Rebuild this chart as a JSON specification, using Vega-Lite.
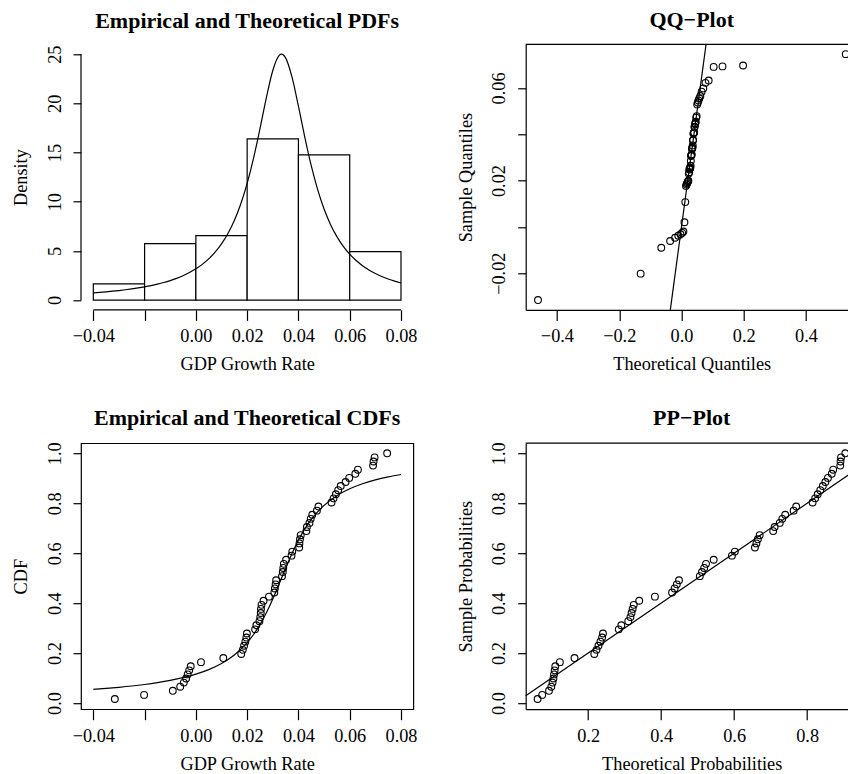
{
  "$schema": "https://vega.github.io/schema/vega-lite/v6.json",
  "background": "white",
  "padding": {"left": 10, "top": 9.3, "right": 0, "bottom": 0},
  "bounds": "flush",
  "spacing": 398.9,
  "datasets": {
    "hist": [
      {"x0": -0.04, "x1": -0.02, "density": 1.639},
      {"x0": -0.02, "x1": 0.0, "density": 5.738},
      {"x0": 0.0, "x1": 0.02, "density": 6.557},
      {"x0": 0.02, "x1": 0.04, "density": 16.393},
      {"x0": 0.04, "x1": 0.06, "density": 14.754},
      {"x0": 0.06, "x1": 0.08, "density": 4.918}
    ],
    "pdf": [
      {"x": -0.04, "d": 0.730}, {"x": -0.0375, "d": 0.781}, {"x": -0.035, "d": 0.837}, {"x": -0.0325, "d": 0.900},
      {"x": -0.03, "d": 0.969}, {"x": -0.0275, "d": 1.047}, {"x": -0.025, "d": 1.134}, {"x": -0.0225, "d": 1.233},
      {"x": -0.02, "d": 1.345}, {"x": -0.0175, "d": 1.472}, {"x": -0.015, "d": 1.618}, {"x": -0.0125, "d": 1.786},
      {"x": -0.01, "d": 1.981}, {"x": -0.0075, "d": 2.208}, {"x": -0.005, "d": 2.476}, {"x": -0.0025, "d": 2.793},
      {"x": 0.0, "d": 3.172}, {"x": 0.0025, "d": 3.628}, {"x": 0.005, "d": 4.183}, {"x": 0.0075, "d": 4.865},
      {"x": 0.01, "d": 5.710}, {"x": 0.0125, "d": 6.766}, {"x": 0.015, "d": 8.094}, {"x": 0.0175, "d": 9.768},
      {"x": 0.02, "d": 11.862}, {"x": 0.0225, "d": 14.428}, {"x": 0.025, "d": 17.420}, {"x": 0.0275, "d": 20.584},
      {"x": 0.03, "d": 23.341}, {"x": 0.0325, "d": 24.880}, {"x": 0.0334, "d": 25.005}, {"x": 0.035, "d": 24.616},
      {"x": 0.0375, "d": 22.655}, {"x": 0.04, "d": 19.708}, {"x": 0.0425, "d": 16.549}, {"x": 0.045, "d": 13.661},
      {"x": 0.0475, "d": 11.229}, {"x": 0.05, "d": 9.259}, {"x": 0.0525, "d": 7.691}, {"x": 0.055, "d": 6.446},
      {"x": 0.0575, "d": 5.455}, {"x": 0.06, "d": 4.660}, {"x": 0.0625, "d": 4.016}, {"x": 0.065, "d": 3.491},
      {"x": 0.0675, "d": 3.059}, {"x": 0.07, "d": 2.699}, {"x": 0.0725, "d": 2.397}, {"x": 0.075, "d": 2.141},
      {"x": 0.0775, "d": 1.923}, {"x": 0.08, "d": 1.736}
    ],
    "cdf": [
      {"x": -0.04, "F": 0.0547}, {"x": -0.035, "F": 0.0586}, {"x": -0.03, "F": 0.0631}, {"x": -0.025, "F": 0.0683},
      {"x": -0.02, "F": 0.0745}, {"x": -0.015, "F": 0.0819}, {"x": -0.01, "F": 0.0908}, {"x": -0.005, "F": 0.1019},
      {"x": 0.0, "F": 0.1159}, {"x": 0.005, "F": 0.1341}, {"x": 0.01, "F": 0.1586}, {"x": 0.015, "F": 0.1927},
      {"x": 0.02, "F": 0.2418}, {"x": 0.0225, "F": 0.2746}, {"x": 0.025, "F": 0.3143}, {"x": 0.0275, "F": 0.3618},
      {"x": 0.03, "F": 0.4169}, {"x": 0.0325, "F": 0.4775}, {"x": 0.035, "F": 0.5398}, {"x": 0.0375, "F": 0.5992},
      {"x": 0.04, "F": 0.6523}, {"x": 0.0425, "F": 0.6976}, {"x": 0.045, "F": 0.7352}, {"x": 0.05, "F": 0.7918},
      {"x": 0.055, "F": 0.8305}, {"x": 0.06, "F": 0.8579}, {"x": 0.065, "F": 0.8781}, {"x": 0.07, "F": 0.8935},
      {"x": 0.075, "F": 0.9055}, {"x": 0.08, "F": 0.9151}
    ],
    "obs": [
      {"v": -0.0316, "p": 0.0164, "F": 0.0616, "q": -0.4608},
      {"v": -0.0202, "p": 0.0328, "F": 0.0742, "q": -0.1311},
      {"v": -0.0090, "p": 0.0492, "F": 0.0928, "q": -0.0649},
      {"v": -0.0061, "p": 0.0656, "F": 0.0992, "q": -0.0365},
      {"v": -0.0047, "p": 0.0820, "F": 0.1026, "q": -0.0205},
      {"v": -0.0038, "p": 0.0984, "F": 0.1050, "q": -0.0103},
      {"v": -0.0032, "p": 0.1148, "F": 0.1066, "q": -0.0032},
      {"v": -0.0026, "p": 0.1311, "F": 0.1083, "q": 0.0021},
      {"v": -0.0020, "p": 0.1475, "F": 0.1101, "q": 0.0062},
      {"v": 0.0020, "p": 0.1639, "F": 0.1226, "q": 0.0095},
      {"v": 0.0107, "p": 0.1803, "F": 0.1627, "q": 0.0122},
      {"v": 0.0177, "p": 0.1967, "F": 0.2169, "q": 0.0145},
      {"v": 0.0183, "p": 0.2131, "F": 0.2230, "q": 0.0164},
      {"v": 0.0188, "p": 0.2295, "F": 0.2283, "q": 0.0181},
      {"v": 0.0193, "p": 0.2459, "F": 0.2338, "q": 0.0197},
      {"v": 0.0197, "p": 0.2623, "F": 0.2383, "q": 0.0210},
      {"v": 0.0199, "p": 0.2787, "F": 0.2407, "q": 0.0222},
      {"v": 0.0231, "p": 0.2951, "F": 0.284, "q": 0.0233},
      {"v": 0.0236, "p": 0.3115, "F": 0.291, "q": 0.0244},
      {"v": 0.0248, "p": 0.3279, "F": 0.310, "q": 0.0253},
      {"v": 0.0251, "p": 0.3443, "F": 0.316, "q": 0.0262},
      {"v": 0.0253, "p": 0.3607, "F": 0.319, "q": 0.0270},
      {"v": 0.0254, "p": 0.3770, "F": 0.322, "q": 0.0278},
      {"v": 0.0256, "p": 0.3934, "F": 0.325, "q": 0.0286},
      {"v": 0.0264, "p": 0.4098, "F": 0.340, "q": 0.0293},
      {"v": 0.0285, "p": 0.4262, "F": 0.383, "q": 0.0300},
      {"v": 0.0306, "p": 0.4426, "F": 0.430, "q": 0.0307},
      {"v": 0.0308, "p": 0.4590, "F": 0.437, "q": 0.0314},
      {"v": 0.0311, "p": 0.4754, "F": 0.443, "q": 0.0321},
      {"v": 0.0313, "p": 0.4918, "F": 0.449, "q": 0.0327},
      {"v": 0.0336, "p": 0.5082, "F": 0.506, "q": 0.0334},
      {"v": 0.0339, "p": 0.5246, "F": 0.512, "q": 0.0341},
      {"v": 0.0341, "p": 0.5410, "F": 0.518, "q": 0.0347},
      {"v": 0.0343, "p": 0.5574, "F": 0.523, "q": 0.0354},
      {"v": 0.0352, "p": 0.5738, "F": 0.544, "q": 0.0361},
      {"v": 0.0373, "p": 0.5902, "F": 0.594, "q": 0.0368},
      {"v": 0.0376, "p": 0.6066, "F": 0.602, "q": 0.0375},
      {"v": 0.0403, "p": 0.6230, "F": 0.657, "q": 0.0382},
      {"v": 0.0404, "p": 0.6393, "F": 0.661, "q": 0.0390},
      {"v": 0.0406, "p": 0.6557, "F": 0.665, "q": 0.0398},
      {"v": 0.0409, "p": 0.6721, "F": 0.670, "q": 0.0406},
      {"v": 0.0431, "p": 0.6885, "F": 0.707, "q": 0.0415},
      {"v": 0.0433, "p": 0.7049, "F": 0.711, "q": 0.0424},
      {"v": 0.0443, "p": 0.7213, "F": 0.725, "q": 0.0435},
      {"v": 0.0448, "p": 0.7377, "F": 0.732, "q": 0.0446},
      {"v": 0.0454, "p": 0.7541, "F": 0.740, "q": 0.0458},
      {"v": 0.0472, "p": 0.7705, "F": 0.763, "q": 0.0472},
      {"v": 0.0478, "p": 0.7869, "F": 0.770, "q": 0.0487},
      {"v": 0.0529, "p": 0.8033, "F": 0.815, "q": 0.0504},
      {"v": 0.0537, "p": 0.8197, "F": 0.822, "q": 0.0523},
      {"v": 0.0546, "p": 0.8361, "F": 0.829, "q": 0.0546},
      {"v": 0.0555, "p": 0.8525, "F": 0.836, "q": 0.0573},
      {"v": 0.0565, "p": 0.8689, "F": 0.843, "q": 0.0606},
      {"v": 0.0584, "p": 0.8852, "F": 0.850, "q": 0.0647},
      {"v": 0.0598, "p": 0.9016, "F": 0.857, "q": 0.0700},
      {"v": 0.0622, "p": 0.9180, "F": 0.8675, "q": 0.0771},
      {"v": 0.0632, "p": 0.9344, "F": 0.8715, "q": 0.0873},
      {"v": 0.0691, "p": 0.9508, "F": 0.8908, "q": 0.1033},
      {"v": 0.0693, "p": 0.9672, "F": 0.8915, "q": 0.1317},
      {"v": 0.0697, "p": 0.9836, "F": 0.8929, "q": 0.1978},
      {"v": 0.0746, "p": 1.0, "F": 0.9046, "q": 0.5276}
    ]
  },
  "config": {
    "font": "Liberation Serif",
    "view": {"stroke": null},
    "axis": {
      "labelFont": "Liberation Serif", "titleFont": "Liberation Serif",
      "labelFontSize": 18.3, "titleFontSize": 18.3, "titleFontWeight": "normal",
      "labelColor": "black", "titleColor": "black", "tickColor": "black", "domainColor": "black",
      "grid": false, "tickWidth": 1.2, "domainWidth": 1.2, "labelFlush": false, "labelOverlap": false
    },
    "axisX": {"tickSize": 10.5, "labelPadding": 21.5, "labelBaseline": "alphabetic", "titleBaseline": "alphabetic", "titleAlign": "center"},
    "axisY": {"tickSize": 8, "labelPadding": 13, "labelAngle": 270, "labelAlign": "center", "labelBaseline": "alphabetic", "titleAngle": 270, "titleBaseline": "alphabetic", "titleAlign": "center"},
    "title": {"font": "Liberation Serif", "fontSize": 22, "fontWeight": "bold", "color": "black", "anchor": "middle", "frame": "group", "baseline": "alphabetic", "offset": 11.4}
  },
  "vconcat": [
    {
      "hconcat": [
        {
          "width": 332.3, "height": 265.6,
          "title": {"text": "Empirical and Theoretical PDFs"},
          "layer": [
            {
              "data": {"name": "hist"},
              "mark": {"type": "rect", "fill": "white", "stroke": "black", "strokeWidth": 1.2},
              "encoding": {
                "x": {"field": "x0", "type": "quantitative", "title": "GDP Growth Rate",
                  "scale": {"domain": [-0.0448, 0.0848], "nice": false, "zero": false},
                  "axis": {"domain": false, "values": [-0.04, -0.02, 0, 0.02, 0.04, 0.06, 0.08], "labelExpr": "abs(datum.value + 0.02) < 1e-9 ? '' : format(datum.value, '.2f')", "titleX": 166.15, "titleY": 60}},
                "x2": {"field": "x1"},
                "y": {"field": "density", "type": "quantitative", "title": "Density",
                  "scale": {"domain": [-1, 26], "nice": false, "zero": false},
                  "axis": {"domain": false, "values": [0, 5, 10, 15, 20, 25], "format": "d", "titleX": -54.5, "titleY": 132.8}},
                "y2": {"datum": 0}
              }
            },
            {
              "data": {"name": "pdf"},
              "mark": {"type": "line", "color": "black", "strokeWidth": 1.2, "interpolate": "monotone"},
              "encoding": {
                "x": {"field": "x", "type": "quantitative", "title": "GDP Growth Rate", "scale": {"domain": [-0.0448, 0.0848], "nice": false, "zero": false}},
                "y": {"field": "d", "type": "quantitative", "title": "Density", "scale": {"domain": [-1, 26], "nice": false, "zero": false}}
              }
            },
            {
              "data": {"values": [{}]},
              "mark": {"type": "rule", "color": "black", "strokeWidth": 1.2},
              "encoding": {
                "x": {"datum": -0.04, "type": "quantitative", "title": "GDP Growth Rate"},
                "x2": {"datum": 0.08},
                "y": {"datum": -1, "type": "quantitative", "title": "Density"}
              }
            },
            {
              "data": {"values": [{}]},
              "mark": {"type": "rule", "color": "black", "strokeWidth": 1.2},
              "encoding": {
                "x": {"datum": -0.0448, "type": "quantitative", "title": "GDP Growth Rate"},
                "y": {"datum": 0, "type": "quantitative", "title": "Density"},
                "y2": {"datum": 25}
              }
            }
          ]
        },
        {
          "width": 324.5, "height": 265.6,
          "title": {"text": "QQ\u2212Plot", "dx": 3.75},
          "layer": [
            {
              "data": {"name": "obs"},
              "mark": {"type": "point", "shape": "circle", "filled": false, "stroke": "black", "strokeWidth": 1.1, "size": 46, "opacity": 1},
              "encoding": {
                "x": {"field": "q", "type": "quantitative", "title": "Theoretical Quantiles",
                  "scale": {"domain": [-0.5003, 0.5418], "nice": false, "zero": false},
                  "axis": {"domain": true, "values": [-0.4, -0.2, 0, 0.2, 0.4], "format": ".1f", "titleX": 166, "titleY": 60}},
                "y": {"field": "v", "type": "quantitative", "title": "Sample Quantiles",
                  "scale": {"domain": [-0.03585, 0.07885], "nice": false, "zero": false},
                  "axis": {"domain": true, "values": [-0.02, 0, 0.02, 0.04, 0.06], "labelExpr": "abs(datum.value) < 1e-9 || abs(datum.value - 0.04) < 1e-9 ? '' : format(datum.value, '.2f')", "titleX": -54.5, "titleY": 132.8}}
              }
            },
            {
              "data": {"values": [{}]},
              "mark": {"type": "rule", "color": "black", "strokeWidth": 1.2},
              "encoding": {
                "x": {"datum": -0.03585, "type": "quantitative", "title": "Theoretical Quantiles"},
                "x2": {"datum": 0.07885},
                "y": {"datum": -0.03585, "type": "quantitative", "title": "Sample Quantiles"},
                "y2": {"datum": 0.07885}
              }
            },
            {
              "data": {"values": [{}]},
              "mark": {"type": "rule", "color": "black", "strokeWidth": 1.2},
              "encoding": {
                "x": {"datum": -0.5003, "type": "quantitative", "title": "Theoretical Quantiles"},
                "x2": {"datum": 0.5418},
                "y": {"datum": 0.07885, "type": "quantitative", "title": "Sample Quantiles"}
              }
            }
          ]
        }
      ],
      "spacing": 111.7,
      "bounds": "flush"
    },
    {
      "hconcat": [
        {
          "width": 332.3, "height": 266,
          "title": {"text": "Empirical and Theoretical CDFs"},
          "view": {"stroke": "black", "strokeWidth": 1.2},
          "layer": [
            {
              "data": {"name": "cdf"},
              "mark": {"type": "line", "color": "black", "strokeWidth": 1.2, "interpolate": "monotone"},
              "encoding": {
                "x": {"field": "x", "type": "quantitative", "title": "GDP Growth Rate",
                  "scale": {"domain": [-0.0448, 0.0848], "nice": false, "zero": false},
                  "axis": {"domain": false, "values": [-0.04, -0.02, 0, 0.02, 0.04, 0.06, 0.08], "labelExpr": "abs(datum.value + 0.02) < 1e-9 ? '' : format(datum.value, '.2f')", "titleX": 166.15, "titleY": 60}},
                "y": {"field": "F", "type": "quantitative", "title": "CDF",
                  "scale": {"domain": [-0.0245, 1.0405], "nice": false, "zero": false},
                  "axis": {"domain": false, "values": [0, 0.2, 0.4, 0.6, 0.8, 1.0], "format": ".1f", "titleX": -54.5, "titleY": 133}}
              }
            },
            {
              "data": {"name": "obs"},
              "mark": {"type": "point", "shape": "circle", "filled": false, "stroke": "black", "strokeWidth": 1.1, "size": 46, "opacity": 1},
              "encoding": {
                "x": {"field": "v", "type": "quantitative", "title": "GDP Growth Rate", "scale": {"domain": [-0.0448, 0.0848], "nice": false, "zero": false}},
                "y": {"field": "p", "type": "quantitative", "title": "CDF", "scale": {"domain": [-0.0245, 1.0405], "nice": false, "zero": false}}
              }
            }
          ]
        },
        {
          "width": 324.5, "height": 266,
          "title": {"text": "PP\u2212Plot", "dx": 3.75},
          "layer": [
            {
              "data": {"name": "obs"},
              "mark": {"type": "point", "shape": "circle", "filled": false, "stroke": "black", "strokeWidth": 1.1, "size": 46, "opacity": 1},
              "encoding": {
                "x": {"field": "F", "type": "quantitative", "title": "Theoretical Probabilities",
                  "scale": {"domain": [0.029, 0.918], "nice": false, "zero": false},
                  "axis": {"domain": true, "values": [0.2, 0.4, 0.6, 0.8], "format": ".1f", "titleX": 166, "titleY": 60}},
                "y": {"field": "p", "type": "quantitative", "title": "Sample Probabilities",
                  "scale": {"domain": [-0.0245, 1.0405], "nice": false, "zero": false},
                  "axis": {"domain": true, "values": [0, 0.2, 0.4, 0.6, 0.8, 1.0], "format": ".1f", "titleX": -54.5, "titleY": 133}}
              }
            },
            {
              "data": {"values": [{}]},
              "mark": {"type": "rule", "color": "black", "strokeWidth": 1.2},
              "encoding": {
                "x": {"datum": 0.029, "type": "quantitative", "title": "Theoretical Probabilities"},
                "x2": {"datum": 0.918},
                "y": {"datum": 0.029, "type": "quantitative", "title": "Sample Probabilities"},
                "y2": {"datum": 0.918}
              }
            },
            {
              "data": {"values": [{}]},
              "mark": {"type": "rule", "color": "black", "strokeWidth": 1.2},
              "encoding": {
                "x": {"datum": 0.029, "type": "quantitative", "title": "Theoretical Probabilities"},
                "x2": {"datum": 0.918},
                "y": {"datum": 1.0405, "type": "quantitative", "title": "Sample Probabilities"}
              }
            }
          ]
        }
      ],
      "spacing": 111.7,
      "bounds": "flush"
    }
  ]
}
